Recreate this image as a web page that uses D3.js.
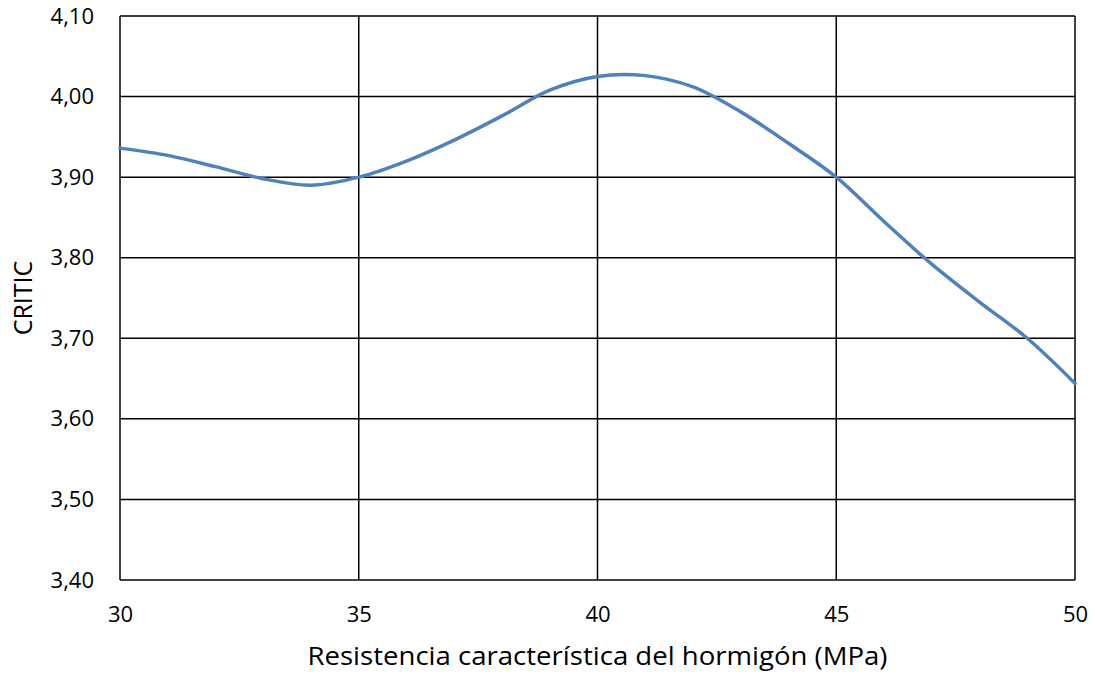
<!DOCTYPE html>
<html>
<head>
<meta charset="utf-8">
<script src="https://cdn.jsdelivr.net/npm/d3@7"></script>
<style>
  body { margin: 0; background: #fff; }
  text { font-family: 'Open Sans', 'Noto Sans', sans-serif; fill: #000; }
</style>
</head>
<body>
<div id="chart"></div>
<script>
  // values
  var strength = [30, 31, 32, 33, 34, 35, 36, 37, 38, 39, 40, 41, 42, 43, 44, 45, 46, 47, 48, 49, 50];
  var critic = [3.936, 3.927, 3.913, 3.898, 3.890, 3.900, 3.920, 3.946, 3.976, 4.008, 4.025, 4.026, 4.012, 3.981, 3.942, 3.900, 3.845, 3.792, 3.745, 3.700, 3.644];
  var xTicks = [30, 35, 40, 45, 50];
  var yTicks = [3.4, 3.5, 3.6, 3.7, 3.8, 3.9, 4.0, 4.1];

  var width = 1095;
  var height = 674;
  var margin = { top: 16, right: 20, bottom: 94, left: 120 };

  var svg = d3.select('#chart').append('svg')
    .attr('width', width)
    .attr('height', height);

  var x = d3.scaleLinear()
    .domain([30, 50])
    .range([margin.left, width - margin.right]);

  var y = d3.scaleLinear()
    .domain([3.4, 4.1])
    .range([height - margin.bottom, margin.top]);

  var fmt = function (d) { return d3.format('.2f')(d).replace('.', ','); };

  /* grid */
  svg.append('g')
    .selectAll('line')
    .data(yTicks)
    .enter()
    .append('line')
    .attr('x1', x(30)).attr('x2', x(50))
    .attr('y1', function (d) { return y(d); })
    .attr('y2', function (d) { return y(d); })
    .attr('stroke', '#000')
    .attr('stroke-width', 1.5);

  svg.append('g')
    .selectAll('line')
    .data(xTicks)
    .enter()
    .append('line')
    .attr('y1', y(3.4)).attr('y2', y(4.1))
    .attr('x1', function (d) { return x(d); })
    .attr('x2', function (d) { return x(d); })
    .attr('stroke', '#000')
    .attr('stroke-width', 1.5);

  /* axes */
  var xAxis = svg.append('g')
    .attr('transform', 'translate(0,' + y(3.4) + ')')
    .call(d3.axisBottom(x).tickValues(xTicks).tickSize(0).tickPadding(26));
  xAxis.select('.domain').remove();
  xAxis.selectAll('text').style('font-size', '22px');

  var yAxis = svg.append('g')
    .attr('transform', 'translate(' + x(30) + ',0)')
    .call(d3.axisLeft(y).tickValues(yTicks).tickFormat(fmt).tickSize(0).tickPadding(26));
  yAxis.select('.domain').remove();
  yAxis.selectAll('text').style('font-size', '22px');

  /* series */
  var line = d3.line()
    .x(function (d, i) { return x(strength[i]); })
    .y(function (d) { return y(d); })
    .curve(d3.curveCatmullRom.alpha(0.5));

  svg.append('path')
    .datum(critic)
    .attr('d', line)
    .attr('fill', 'none')
    .attr('stroke', '#4f81bd')
    .attr('stroke-width', 3.5)
    .attr('stroke-linecap', 'round');

  /* titles */
  svg.append('text')
    .attr('x', (x(30) + x(50)) / 2)
    .attr('y', 665)
    .attr('text-anchor', 'middle')
    .attr('textLength', 580)
    .attr('lengthAdjust', 'spacingAndGlyphs')
    .style('font-size', '25px')
    .text('Resistencia característica del hormigón (MPa)');

  svg.append('text')
    .attr('transform', 'translate(32,' + ((y(3.4) + y(4.1)) / 2) + ') rotate(-90)')
    .attr('text-anchor', 'middle')
    .style('font-size', '25px')
    .text('CRITIC');
</script>
</body>
</html>
